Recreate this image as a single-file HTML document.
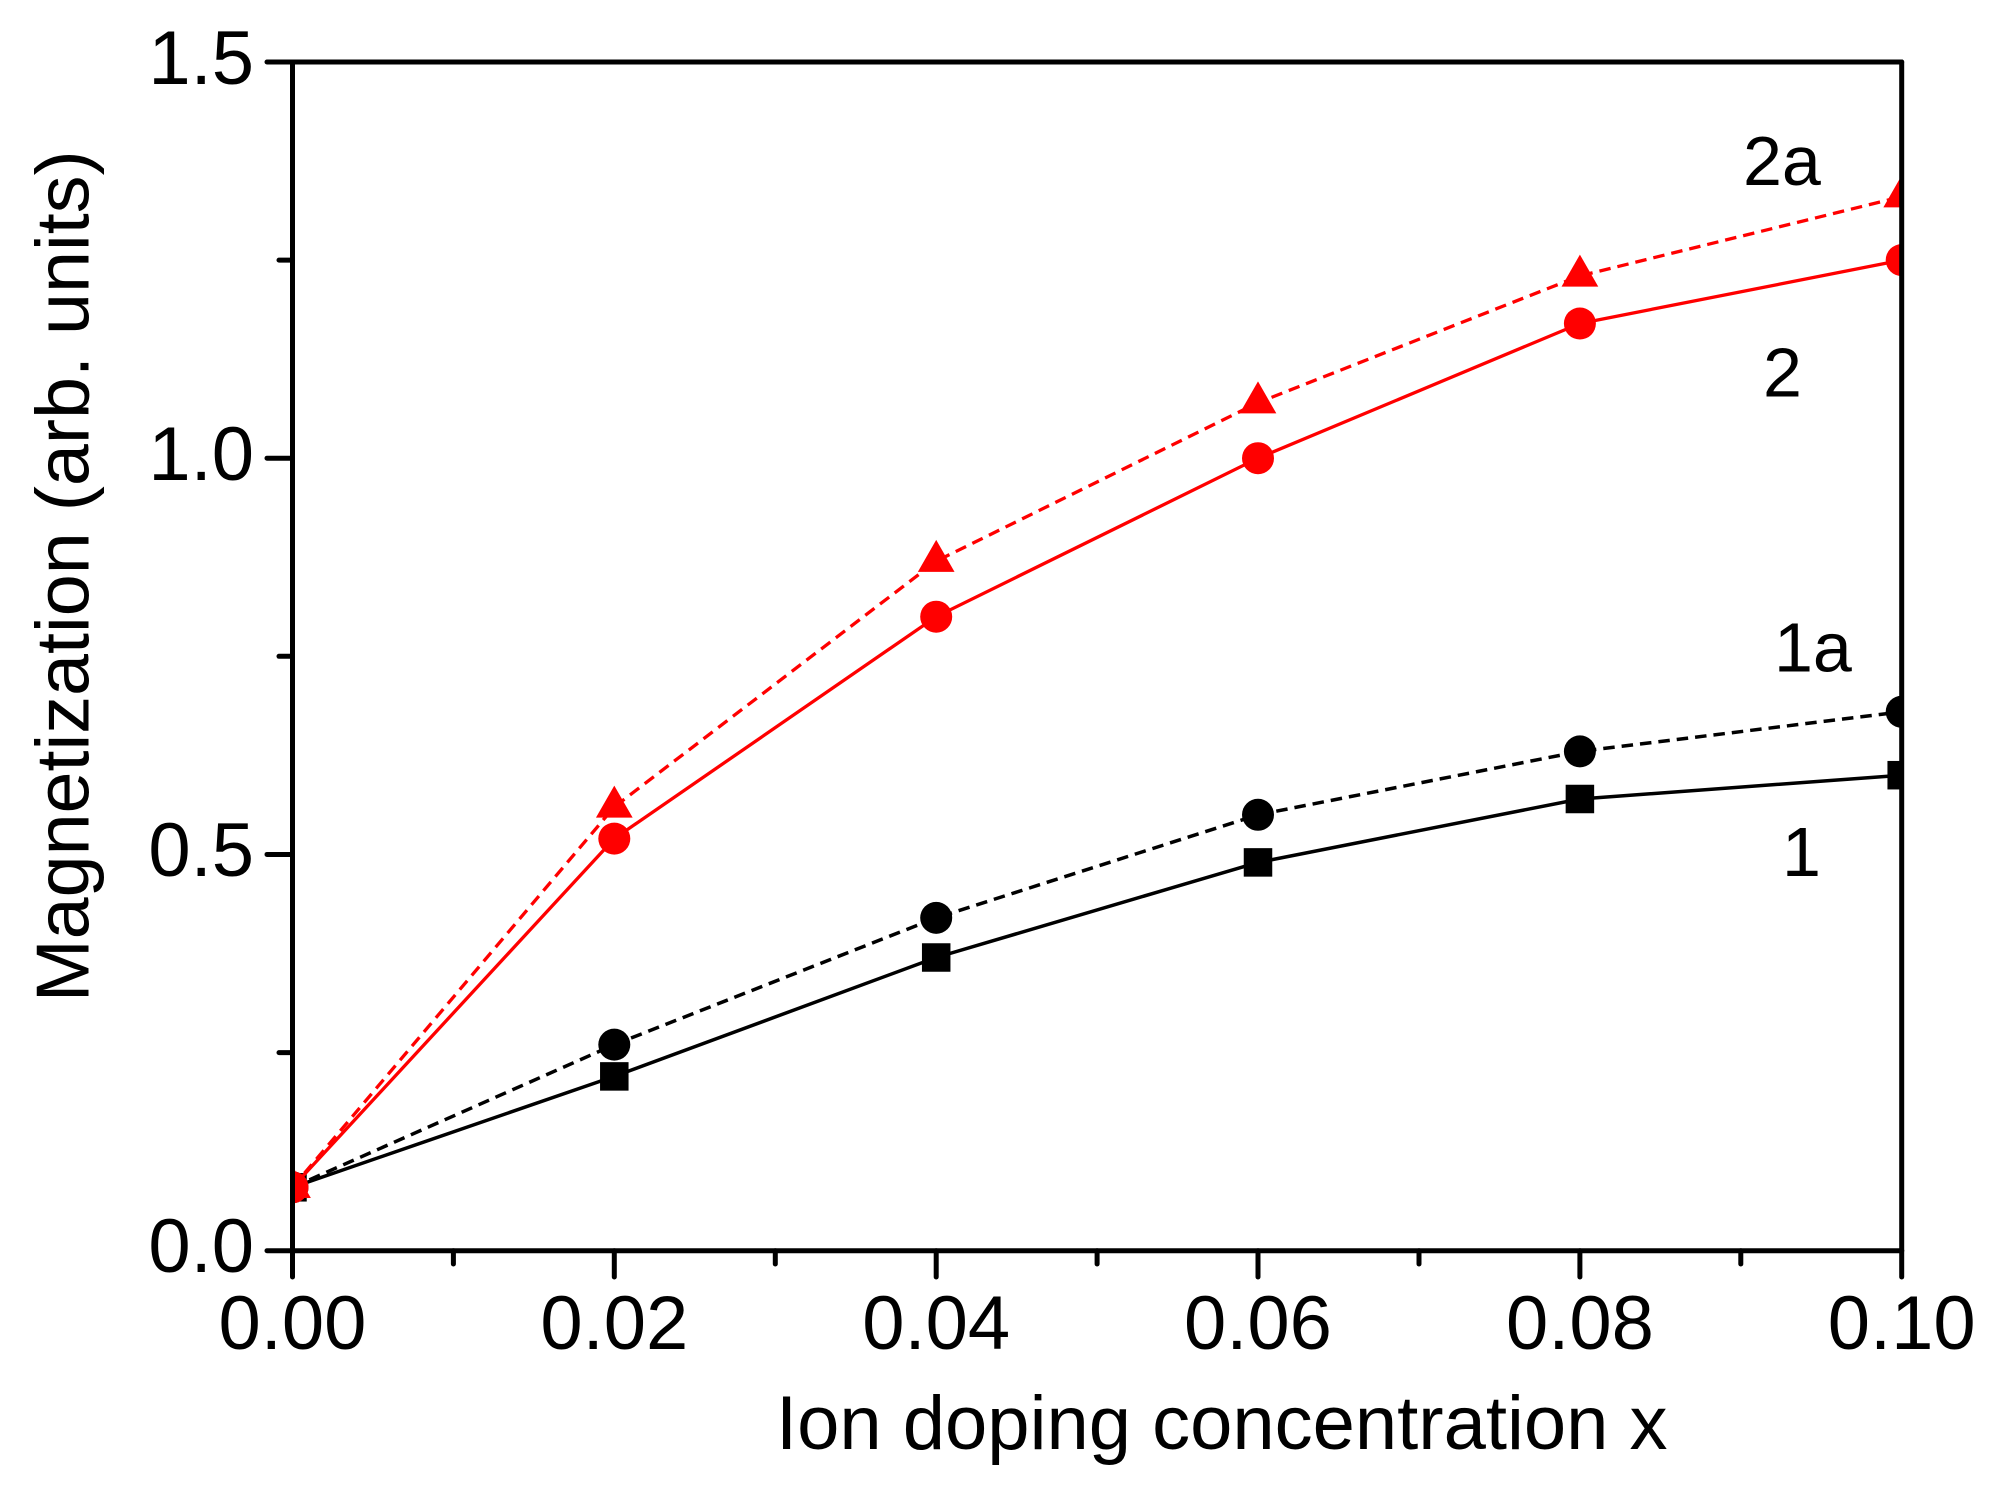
<!DOCTYPE html>
<html><head><meta charset="utf-8"><style>
html,body{margin:0;padding:0;background:#fff;}
svg{display:block;}
text{font-family:"Liberation Sans",Arial,sans-serif;fill:#000;}
</style></head><body>
<svg width="1997" height="1492" viewBox="0 0 1997 1492" xmlns="http://www.w3.org/2000/svg">
<defs>
<clipPath id="pa"><rect x="292.5" y="40" width="1609.2" height="1210.7"/></clipPath>
<symbol id="sq" overflow="visible"><rect x="-14.25" y="-14.25" width="28.5" height="28.5"/></symbol>
</defs>
<g clip-path="url(#pa)">
<!-- Series 1: black squares solid -->
<polyline fill="none" stroke="#000" stroke-width="3.5" stroke-linejoin="round" points="292.5,1187.3 614.3,1076.4 936.2,957.5 1258,862.4 1579.9,799 1901.7,775.2"/>
<g fill="#000">
<rect x="278.25" y="1173.05" width="28.5" height="28.5"/>
<rect x="600.05" y="1062.15" width="28.5" height="28.5"/>
<rect x="921.95" y="943.25" width="28.5" height="28.5"/>
<rect x="1243.75" y="848.15" width="28.5" height="28.5"/>
<rect x="1565.65" y="784.75" width="28.5" height="28.5"/>
<rect x="1887.45" y="760.95" width="28.5" height="28.5"/>
</g>
<!-- Series 1a: black circles dashed -->
<polyline fill="none" stroke="#000" stroke-width="3.5" stroke-dasharray="11.5 7" points="292.5,1187.3 614.3,1044.65 936.2,917.85 1258,814.8 1579.9,751.4 1901.7,711.8"/>
<g fill="#000">
<circle cx="292.5" cy="1187.3" r="16"/>
<circle cx="614.3" cy="1044.65" r="16"/>
<circle cx="936.2" cy="917.85" r="16"/>
<circle cx="1258" cy="814.8" r="16"/>
<circle cx="1579.9" cy="751.4" r="16"/>
<circle cx="1901.7" cy="711.8" r="16"/>
</g>
<!-- Series 2: red circles solid -->
<polyline fill="none" stroke="#ff0000" stroke-width="3.3" stroke-linejoin="round" points="292.5,1187.3 614.3,838.6 936.2,616.7 1258,458.2 1579.9,323.5 1901.7,260.1"/>
<g fill="#ff0000">
<circle cx="292.5" cy="1187.3" r="16"/>
<circle cx="614.3" cy="838.6" r="16"/>
<circle cx="936.2" cy="616.7" r="16"/>
<circle cx="1258" cy="458.2" r="16"/>
<circle cx="1579.9" cy="323.5" r="16"/>
<circle cx="1901.7" cy="260.1" r="16"/>
</g>
<!-- Series 2a: red triangles dashed -->
<polyline fill="none" stroke="#ff0000" stroke-width="3.3" stroke-dasharray="11.5 7" points="292.5,1187.3 614.3,806.9 936.2,561.2 1258,402.7 1579.9,275.9 1901.7,196.7"/>
<g fill="#ff0000">
<polygon points="274.15,1198 310.85,1198 292.5,1166"/>
<polygon points="595.95,817.6 632.65,817.6 614.3,785.6"/>
<polygon points="917.85,571.9 954.55,571.9 936.2,539.9"/>
<polygon points="1239.65,413.4 1276.35,413.4 1258,381.4"/>
<polygon points="1561.55,286.6 1598.25,286.6 1579.9,254.6"/>
<polygon points="1883.35,207.4 1920.05,207.4 1901.7,175.4"/>
</g>
</g>
<!-- Axes frame -->
<g stroke="#000" stroke-width="5" fill="none" stroke-linecap="round">
<line x1="292.5" y1="62" x2="292.5" y2="1250.7"/>
<line x1="292.5" y1="1250.7" x2="1901.7" y2="1250.7"/>
<line x1="292.5" y1="62" x2="1901.7" y2="62"/>
<line x1="1901.7" y1="62" x2="1901.7" y2="1250.7"/>
<!-- y major ticks -->
<line x1="267" y1="62" x2="292.5" y2="62"/>
<line x1="267" y1="458.2" x2="292.5" y2="458.2"/>
<line x1="267" y1="854.45" x2="292.5" y2="854.45"/>
<line x1="267" y1="1250.7" x2="292.5" y2="1250.7"/>
<!-- y minor ticks -->
<line x1="279" y1="260.1" x2="292.5" y2="260.1"/>
<line x1="279" y1="656.3" x2="292.5" y2="656.3"/>
<line x1="279" y1="1052.6" x2="292.5" y2="1052.6"/>
<!-- x major ticks -->
<line x1="292.5" y1="1250.7" x2="292.5" y2="1277"/>
<line x1="614.3" y1="1250.7" x2="614.3" y2="1277"/>
<line x1="936.2" y1="1250.7" x2="936.2" y2="1277"/>
<line x1="1258" y1="1250.7" x2="1258" y2="1277"/>
<line x1="1579.9" y1="1250.7" x2="1579.9" y2="1277"/>
<line x1="1901.7" y1="1250.7" x2="1901.7" y2="1277"/>
<!-- x minor ticks -->
<line x1="453.4" y1="1250.7" x2="453.4" y2="1264"/>
<line x1="775.3" y1="1250.7" x2="775.3" y2="1264"/>
<line x1="1097.1" y1="1250.7" x2="1097.1" y2="1264"/>
<line x1="1419" y1="1250.7" x2="1419" y2="1264"/>
<line x1="1740.8" y1="1250.7" x2="1740.8" y2="1264"/>
</g>
<!-- y tick labels -->
<g font-size="76" text-anchor="end">
<text x="254" y="84">1.5</text>
<text x="254" y="480">1.0</text>
<text x="254" y="876">0.5</text>
<text x="254" y="1272">0.0</text>
</g>
<!-- x tick labels -->
<g font-size="76" text-anchor="middle">
<text x="292.5" y="1349">0.00</text>
<text x="614.3" y="1349">0.02</text>
<text x="936.2" y="1349">0.04</text>
<text x="1258" y="1349">0.06</text>
<text x="1579.9" y="1349">0.08</text>
<text x="1901.7" y="1349">0.10</text>
</g>
<!-- axis titles -->
<text x="776" y="1449" font-size="76">Ion doping concentration x</text>
<text transform="translate(88.3,1002.3) rotate(-90)" font-size="75.5">Magnetization (arb. units)</text>
<!-- series labels -->
<g font-size="70">
<text x="1743" y="185">2a</text>
<text x="1763" y="396.5">2</text>
<text x="1774" y="671.5">1a</text>
<text x="1782" y="876">1</text>
</g>
</svg>
</body></html>
